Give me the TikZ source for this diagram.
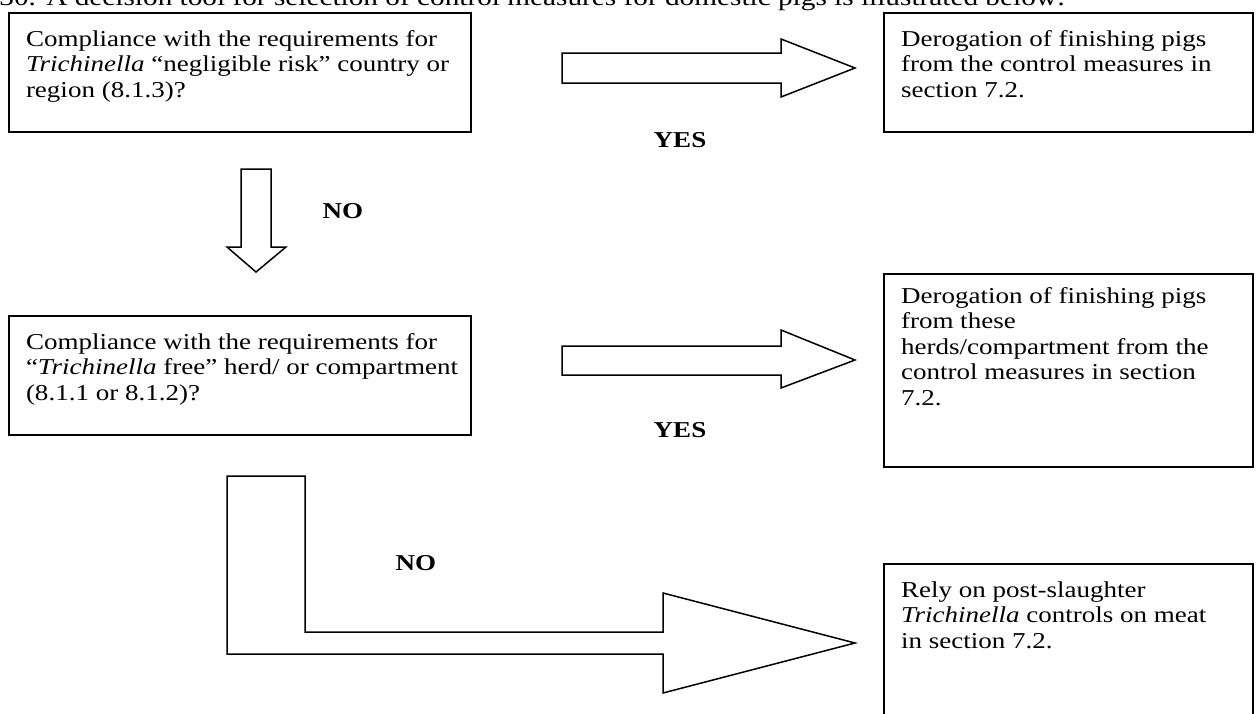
\documentclass[tikz,border=0pt]{standalone}
\usepackage{fontspec}
\setmainfont{Liberation Serif}[FakeStretch=1.19]
\tikzset{
    every node/.style={inner sep=0pt, font=\fontsize{11.35}{12.75}\selectfont}
}
\tikzset{
    decision/.style={draw, line width=1pt, anchor=north west, inner xsep=8.5pt, inner ysep=0pt},
    blockarrow/.style={draw, line width=0.75pt, line join=miter},
    answer/.style={font=\fontsize{11.35}{12.75}\selectfont\bfseries}
}
\newcommand{\boxlines}[4][16.5pt]{\parbox[c][#2][t]{#3}{\rule{0pt}{#1}\begin{tabular}[t]{@{}l@{}}#4\end{tabular}}}

\begin{document}
\begin{tikzpicture}[x=0.5pt, y=-0.5pt]
    \useasboundingbox (0, 0) rectangle (1259, 713);

    \node (num) [anchor=base west, font=\fontsize{12.3}{13.5}\selectfont] at (-1, 5) {30.};
    \node (intro) [anchor=base west, font=\fontsize{12.3}{13.5}\selectfont] at (46, 5) {A decision tool for selection of control measures for domestic pigs is illustrated below:};

    \node (q1) [decision] at (8, 12) {\boxlines{59.5pt}{214pt}{Compliance with the requirements for\\ \textit{Trichinella} “negligible risk” country or\\ region (8.1.3)?}};
    \node (d1) [decision] at (883, 12) {\boxlines{59.5pt}{167.5pt}{Derogation of finishing pigs\\ from the control measures in\\ section 7.2.}};
    \node (q2) [decision] at (8, 315) {\boxlines{59.5pt}{214pt}{Compliance with the requirements for\\ “\textit{Trichinella} free” herd/ or compartment\\ (8.1.1 or 8.1.2)?}};
    \node (d2) [decision] at (883, 273) {\boxlines[14.5pt]{96.5pt}{167.5pt}{Derogation of finishing pigs\\ from these\\ herds/compartment from the\\ control measures in section\\ 7.2.}};
    \node (rely) [decision] at (883, 563) {\boxlines{100pt}{167.5pt}{Rely on post-slaughter\\ \textit{Trichinella} controls on meat\\ in section 7.2.}};

    \draw[blockarrow] (562, 53) -- (781, 53) -- (781, 39) -- (855, 68) -- (781, 97) -- (781, 83) -- (562, 83) -- cycle;
    \draw[blockarrow] (241, 169) -- (271, 169) -- (271, 247) -- (286, 247) -- (256, 272) -- (227, 247) -- (241, 247) -- cycle;
    \draw[blockarrow] (562, 346) -- (781, 346) -- (781, 330) -- (855, 360) -- (781, 388) -- (781, 375) -- (562, 375) -- cycle;
    \draw[blockarrow] (227, 476) -- (305, 476) -- (305, 632) -- (663, 632) -- (663, 593) -- (855, 643) -- (663, 693) -- (663, 654) -- (227, 654) -- cycle;

    \node (yes1) [answer] at (680, 140) {YES};
    \node (no1) [answer] at (343, 211) {NO};
    \node (yes2) [answer] at (680, 430) {YES};
    \node (no2) [answer] at (416, 563) {NO};
\end{tikzpicture}
\end{document}
